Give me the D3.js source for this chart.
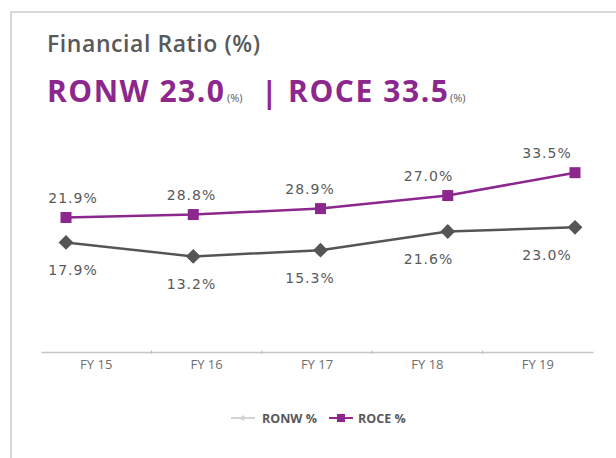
<!DOCTYPE html>
<html>
<head>
<meta charset="utf-8">
<script src="https://cdn.jsdelivr.net/npm/d3@7"></script>
<style>
  html, body { margin: 0; padding: 0; background: #fff; }
  svg { display: block; }
</style>
</head>
<body>
<svg id="chart" width="616" height="458"></svg>
<script>
// data
const years = ["FY 15", "FY 16", "FY 17", "FY 18", "FY 19"];
const ronw = [17.9, 13.2, 15.3, 21.6, 23.0];
// ROCE as it is plotted in the picture (markers sit higher than the printed labels say)
const roce = [26.3, 27.3, 29.3, 33.7, 41.4];
const ronwLabels = ["17.9%", "13.2%", "15.3%", "21.6%", "23.0%"];
const roceLabels = ["21.9%", "28.8%", "28.9%", "27.0%", "33.5%"];
const seriesNames = ["RONW %", "ROCE %"];

const purple = "#8c278e";
const dark = "#555557";
const textGray = "#58595b";

const svg = d3.select("#chart");

// frame
svg.append("path")
    .attr("d", "M11,458V12H616")
    .attr("fill", "none")
    .attr("stroke", "#cacaca")
    .attr("stroke-width", 1.5);

// titles
svg.append("text")
    .attr("x", 47)
    .attr("y", 52)
    .attr("fill", textGray)
    .attr("textLength", 213)
    .attr("lengthAdjust", "spacing")
    .style("font-family", "'Open Sans', sans-serif")
    .style("font-weight", 600)
    .style("font-size", "23px")
    .text("Financial Ratio (%)");

const head = svg.append("g")
    .style("font-family", "'Open Sans', sans-serif")
    .attr("fill", purple);

head.append("text")
    .attr("x", 47).attr("y", 102)
    .attr("textLength", 177).attr("lengthAdjust", "spacing")
    .style("font-weight", 700).style("font-size", "30px")
    .text("RONW " + ronw[ronw.length - 1].toFixed(1));
head.append("text")
    .attr("x", 227).attr("y", 102)
    .attr("fill", textGray)
    .style("font-size", "11px")
    .text("(%)");
head.append("text")
    .attr("x", 261).attr("y", 103)
    .style("font-weight", 700).style("font-size", "30px")
    .text("|");
head.append("text")
    .attr("x", 288).attr("y", 102)
    .attr("textLength", 160).attr("lengthAdjust", "spacing")
    .style("font-weight", 700).style("font-size", "30px")
    .text("ROCE " + roceLabels[roceLabels.length - 1].replace("%", ""));
head.append("text")
    .attr("x", 450).attr("y", 102)
    .attr("fill", textGray)
    .style("font-size", "11px")
    .text("(%)");

// scales
const xAxisScale = d3.scaleBand()
    .domain(years)
    .range([41, 593]);

const xPoint = d3.scalePoint()
    .domain(years)
    .range([66, 575]);

const xLabel = d3.scalePoint()
    .domain(years)
    .range([73, 547]);

const yScale = d3.scaleLinear()
    .domain([-19, 45])
    .range([352, 162]);

// x axis
const axisG = svg.append("g")
    .attr("transform", `translate(0, ${yScale(-19)})`)
    .call(d3.axisBottom(xAxisScale).tickSize(0).tickPadding(8));
axisG.select(".domain")
    .attr("stroke", "#c6c6c6")
    .attr("stroke-width", 1.5);
axisG.selectAll(".tick text")
    .attr("fill", "#6d6e70")
    .style("font-family", "'Open Sans', sans-serif")
    .style("font-size", "13px");
// small separators between categories
axisG.selectAll(".sep")
    .data(years.slice(1))
    .enter().append("line")
    .attr("x1", d => xAxisScale(d)).attr("x2", d => xAxisScale(d))
    .attr("y1", -1.5).attr("y2", 1.5)
    .attr("stroke", "#b8b8b8");

// lines
const line = d3.line()
    .x((d, i) => xPoint(years[i]))
    .y(d => yScale(d));

svg.append("path")
    .datum(ronw)
    .attr("fill", "none")
    .attr("stroke", dark)
    .attr("stroke-width", 2.5)
    .attr("d", line);

svg.append("path")
    .datum(roce)
    .attr("fill", "none")
    .attr("stroke", purple)
    .attr("stroke-width", 2.5)
    .attr("d", line);

// markers
const diamond = d3.symbol().type(d3.symbolDiamond2).size(140);
svg.selectAll(".ronw-pt")
    .data(ronw)
    .enter().append("path")
    .attr("class", "ronw-pt")
    .attr("transform", (d, i) => `translate(${xPoint(years[i])}, ${yScale(d)})`)
    .attr("d", diamond)
    .attr("fill", dark);

const markSize = 11;
svg.selectAll(".roce-pt")
    .data(roce)
    .enter().append("rect")
    .attr("class", "roce-pt")
    .attr("x", (d, i) => xPoint(years[i]) - markSize / 2)
    .attr("y", d => yScale(d) - markSize / 2)
    .attr("width", markSize)
    .attr("height", markSize)
    .attr("fill", purple);

// data labels
const labelStyle = sel => sel
    .attr("text-anchor", "middle")
    .attr("fill", textGray)
    .style("font-family", "'DejaVu Sans', sans-serif")
    .style("font-size", "14px")
    .style("letter-spacing", "1px");

svg.selectAll(".roce-lbl")
    .data(roceLabels)
    .enter().append("text")
    .attr("class", "roce-lbl")
    .attr("x", (d, i) => xLabel(years[i]))
    .attr("y", (d, i) => yScale(roce[i]) - 20 + 5)
    .call(labelStyle)
    .text(d => d);

svg.selectAll(".ronw-lbl")
    .data(ronwLabels)
    .enter().append("text")
    .attr("class", "ronw-lbl")
    .attr("x", (d, i) => xLabel(years[i]))
    .attr("y", (d, i) => yScale(ronw[i]) + 28 + 5)
    .call(labelStyle)
    .text(d => d);

// legend
const legend = svg.append("g")
    .attr("transform", "translate(231, 418)")
    .style("font-family", "'Open Sans', sans-serif")
    .style("font-weight", 700)
    .style("font-size", "12.5px");

legend.append("line")
    .attr("x1", 0).attr("x2", 24)
    .attr("stroke", "#d3d3d3").attr("stroke-width", 2);
legend.append("path")
    .attr("transform", "translate(12,0)")
    .attr("d", d3.symbol().type(d3.symbolDiamond2).size(22))
    .attr("fill", "#d3d3d3");
legend.append("text")
    .attr("x", 31).attr("y", 4.5)
    .attr("fill", textGray)
    .text(seriesNames[0]);

legend.append("line")
    .attr("x1", 98).attr("x2", 122)
    .attr("stroke", purple).attr("stroke-width", 2);
legend.append("rect")
    .attr("x", 106).attr("y", -4)
    .attr("width", 8).attr("height", 8)
    .attr("fill", purple);
legend.append("text")
    .attr("x", 127).attr("y", 4.5)
    .attr("fill", textGray)
    .text(seriesNames[1]);
</script>
</body>
</html>
